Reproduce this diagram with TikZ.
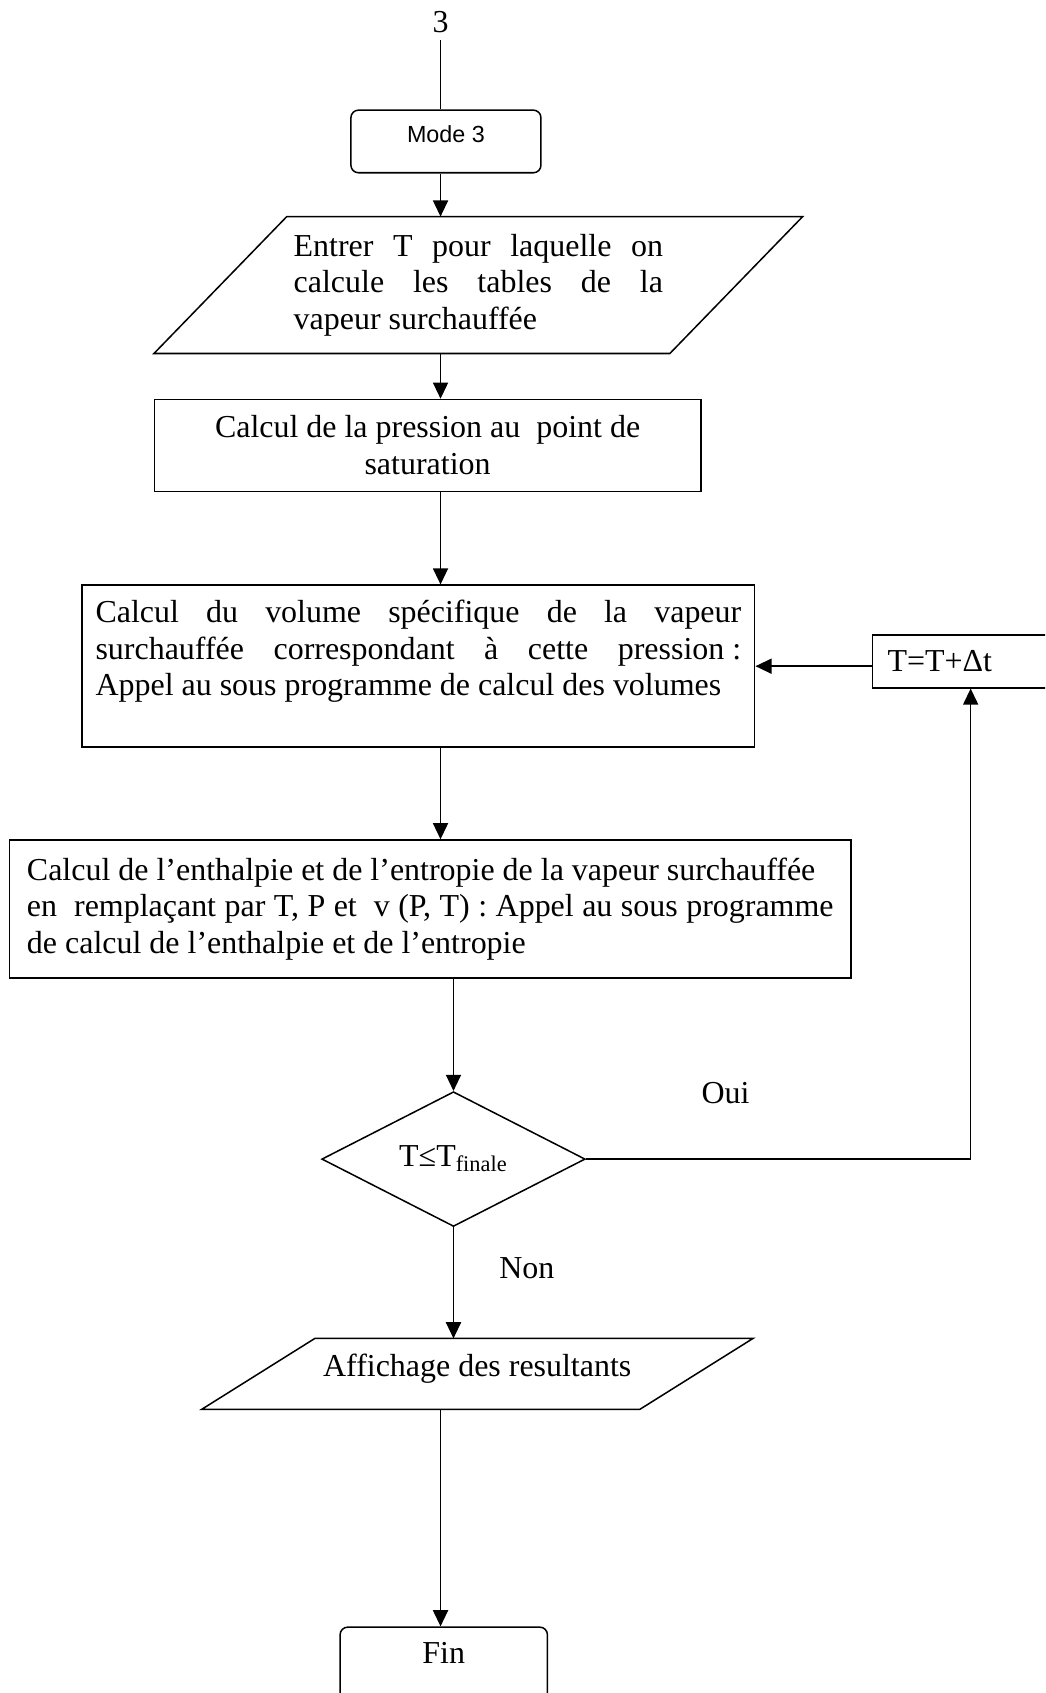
\documentclass[tikz,border=0pt]{standalone}
\usepackage{fontspec}
\setmainfont{Liberation Serif}
\newfontfamily\arialf{Liberation Sans}
\usetikzlibrary{shapes.geometric,arrows.meta}
\newcommand\jline[2]{{\spaceskip=0pt\xspaceskip=0pt\makebox[#1][s]{#2}}}
\begin{document}
\begin{tikzpicture}[x=0.5pt,y=-0.5pt,
  base/.style={font=\fontsize{14.8}{17}\selectfont},
  rbox/.style={draw, rectangle, base, line width=0.7pt, inner sep=0pt},
  pgram/.style={rectangle, base, inner sep=0pt},
  lbl/.style={base},
  conn/.style={line width=0.7pt},
  flow/.style={conn, -{Triangle[length=7.5pt,width=7pt]}}]
\useasboundingbox (0,0) rectangle (968,1568);
\clip (0,0) rectangle (968,1568);

\node[lbl] (n3) at (408,20) {3};
\node[rbox, rounded corners=3.5pt, minimum width=88pt, minimum height=29pt,
  label={[anchor=center,yshift=-11.5pt,font=\arialf\fontsize{10.8}{13}\selectfont]north:Mode 3}] (mode) at (413,131) {};

% parallelogram 1 (band node + outline)
\node[pgram, minimum width=238.5pt, minimum height=63pt, text width=171pt, align=justify] (par1) at (443,264)
  {\jline{171pt}{Entrer T pour laquelle on}\\
   \jline{171pt}{calcule les tables de la}\\
   vapeur surchauffée};
\draw[conn] ([xshift=30.75pt]par1.north west) -- ([xshift=30.75pt]par1.north east)
  -- ([xshift=-30.75pt]par1.south east) -- ([xshift=-30.75pt]par1.south west) -- cycle;

\node[rbox, minimum width=253pt, minimum height=42.5pt, align=center] (r2) at (396,412.5)
  {Calcul de la pression au\ \ point de\\saturation};
\node[rbox, minimum width=311.5pt, minimum height=75pt, text width=299pt, align=justify] (r3) at (387.5,617)
  {\jline{299pt}{Calcul du volume spécifique de la vapeur}\\
   \jline{299pt}{surchauffée correspondant à cette \mbox{pression :}}\\
   Appel au sous programme de calcul des volumes\\
   \mbox{}};
\node[rbox, minimum width=96pt, minimum height=24.5pt, text width=82pt, align=justify] (tbox) at (904,612.5) {T=T+Δt};
\node[rbox, minimum width=389.5pt, minimum height=64pt, text width=373.5pt, align=justify] (r4) at (398.5,842)
  {Calcul de l’enthalpie et de l’entropie de la vapeur surchauffée\\
   \jline{373.5pt}{en\ \ remplaçant par T, P et\ \ v (P, T) : Appel au sous programme}\\
   de calcul de l’enthalpie et de l’entropie\par\vspace*{8pt}};
\node[draw, diamond, base, line width=0.7pt, minimum width=122pt, minimum height=54.5pt, inner sep=0pt] (dia) at (420,1073.5)
  {T≤T\textsubscript{finale}};
\node[lbl] (oui) at (672,1012) {Oui};
\node[lbl] (non) at (488,1175) {Non};

% parallelogram 2
\node[pgram, minimum width=202.5pt, minimum height=32.5pt] (par2) at (442,1272.5)
  {\raisebox{-1.2pt}[0pt][0pt]{Affichage des resultants}};
\draw[conn] ([xshift=26.25pt]par2.north west) -- ([xshift=26.25pt]par2.north east)
  -- ([xshift=-26.25pt]par2.south east) -- ([xshift=-26.25pt]par2.south west) -- cycle;

\node[rbox, rounded corners=3.5pt, minimum width=96pt, minimum height=40pt,
  label={[anchor=center,yshift=-12.5pt,font=\fontsize{14.8}{17}\selectfont]north:Fin}] (fin) at (411,1547) {};

\coordinate (vx) at (408,0);
\coordinate (vy) at (0,617);
\coordinate (vr) at (899,0);
\draw[conn] (n3.south) -- (n3.south |- mode.north);
\draw[flow] (mode.south -| vx) -- (par1.north -| vx);
\draw[flow] (par1.south -| vx) -- (r2.north -| vx);
\draw[flow] (r2.south -| vx) -- (r3.north -| vx);
\draw[flow] (tbox.west |- vy) -- (r3.east |- vy);
\draw[flow] (r3.south -| vx) -- (r4.north -| vx);
\draw[flow] (r4.south -| dia.north) -- (dia.north);
\draw[flow] (dia.east) -- (dia.east -| vr) -- (tbox.south -| vr);
\draw[flow] (dia.south) -- (dia.south |- par2.north);
\draw[flow] (par2.south -| vx) -- (fin.north -| vx);
\end{tikzpicture}
\end{document}
